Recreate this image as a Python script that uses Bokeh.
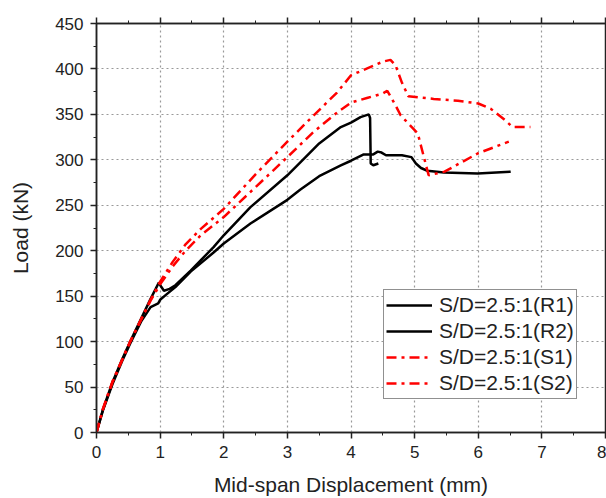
from bokeh.plotting import figure
from bokeh.models import LinearAxis, SingleIntervalTicker, Range1d, Legend, LegendItem
from bokeh.embed import file_html
from bokeh.resources import INLINE

# ---- data ----
r1_x = [0, 0.1, 0.25, 0.4, 0.53, 0.7, 0.85, 0.93, 0.98, 1.02, 1.06, 1.15, 1.24, 1.48, 1.84, 2.0, 2.42, 3.0, 3.2, 3.5, 3.84, 4.0, 4.15, 4.28, 4.30, 4.31, 4.35, 4.43]
r1_y = [0, 25, 55, 80, 100, 125, 147, 158, 165, 160, 156, 158, 162, 178, 204, 217, 248, 283, 297, 318, 336, 341, 347, 350, 346, 296, 294, 296]

r2_x = [0, 0.1, 0.25, 0.4, 0.53, 0.7, 0.85, 0.97, 1.0, 1.1, 1.24, 1.48, 1.84, 2.0, 2.42, 3.0, 3.2, 3.5, 3.84, 4.0, 4.2, 4.35, 4.42, 4.48, 4.55, 4.8, 4.95, 5.02, 5.1, 5.2, 5.46, 5.99, 6.51]
r2_y = [0, 24, 53, 78, 98, 122, 138, 142, 146, 152, 160, 177, 198, 208, 230, 256, 267, 282, 294, 299, 306, 306, 309, 308, 305, 305, 303, 296, 291, 288, 286, 285, 287]

s1_x = [0, 0.1, 0.25, 0.53, 0.85, 1.0, 1.2, 1.4, 1.64, 2.0, 2.5, 3.0, 3.4, 3.78, 4.0, 4.3, 4.5, 4.62, 4.7, 4.8, 4.9, 5.3, 5.68, 6.0, 6.2, 6.4, 6.54, 6.82]
s1_y = [0, 26, 56, 100, 146, 166, 188, 207, 224, 246, 284, 320, 348, 374, 393, 402, 408, 410, 404, 385, 370, 367, 365, 362, 356, 345, 336, 336]

s2_x = [0, 0.1, 0.25, 0.53, 0.85, 1.0, 1.2, 1.4, 1.64, 2.0, 2.5, 3.0, 3.4, 3.78, 4.0, 4.25, 4.5, 4.57, 4.7, 4.78, 5.05, 5.12, 5.22, 5.47, 5.99, 6.48]
s2_y = [0, 25, 55, 100, 145, 163, 183, 200, 217, 237, 270, 303, 330, 352, 363, 368, 373, 376, 360, 349, 329, 310, 283, 287, 307, 320]

labels = ["S/D=2.5:1(R1)", "S/D=2.5:1(R2)", "S/D=2.5:1(S1)", "S/D=2.5:1(S2)"]

FONT = "Liberation Sans"
INK = "#222222"

p = figure(width=606, height=498, output_backend="svg", toolbar_location=None,
           x_range=Range1d(0, 8), y_range=Range1d(0, 450),
           min_border_left=96, min_border_right=1, min_border_top=23, min_border_bottom=64)
p.outline_line_color = INK
p.outline_line_width = 1.5

p.xaxis.ticker = SingleIntervalTicker(interval=1, num_minor_ticks=2)
p.yaxis.ticker = SingleIntervalTicker(interval=50, num_minor_ticks=2)

for ax in (p.xaxis[0], p.yaxis[0]):
    ax.axis_line_width = 1.5
    ax.axis_line_color = INK
    ax.major_tick_line_color = INK
    ax.minor_tick_line_color = INK
    ax.major_tick_line_width = 1.5
    ax.major_tick_out = 6
    ax.major_tick_in = 0
    ax.minor_tick_out = 3
    ax.minor_tick_in = 0
    ax.major_label_text_font = FONT
    ax.major_label_text_font_size = "17px"
    ax.major_label_text_color = INK
    ax.axis_label_text_font = FONT
    ax.axis_label_text_font_size = "21px"
    ax.axis_label_text_font_style = "normal"
    ax.axis_label_text_color = INK

p.xaxis.axis_label = "Mid-span Displacement (mm)"
p.yaxis.axis_label = "Load (kN)"
p.xaxis.major_label_standoff = 7
p.yaxis.major_label_standoff = 7
p.xaxis.axis_label_standoff = 12
p.yaxis.axis_label_standoff = 20

top = LinearAxis(ticker=SingleIntervalTicker(interval=1, num_minor_ticks=2))
top.axis_line_width = 1.5
top.axis_line_color = INK
top.major_tick_line_color = INK
top.minor_tick_line_color = INK
top.major_tick_line_width = 1.5
top.major_tick_out = 6
top.major_tick_in = 0
top.minor_tick_out = 3
top.minor_tick_in = 0
top.major_label_text_color = None
top.major_label_standoff = 0
p.add_layout(top, "above")

p.xgrid.grid_line_color = "#999999"
p.ygrid.grid_line_color = "#999999"
p.xgrid.grid_line_dash = "2 3"
p.ygrid.grid_line_dash = "2 3"
p.xgrid.grid_line_width = 1.2
p.ygrid.grid_line_width = 1.2

dash = "10 5 3 5"
l1 = p.line(r1_x, r1_y, line_color="black", line_width=2.5)
l2 = p.line(r2_x, r2_y, line_color="black", line_width=2.5)
l3 = p.line(s1_x, s1_y, line_color="#ff0000", line_width=2.5, line_dash=dash)
l4 = p.line(s2_x, s2_y, line_color="#ff0000", line_width=2.5, line_dash=dash)

legend = Legend(items=[LegendItem(label=labels[0], renderers=[l1]),
                       LegendItem(label=labels[1], renderers=[l2]),
                       LegendItem(label=labels[2], renderers=[l3]),
                       LegendItem(label=labels[3], renderers=[l4])],
                location=(287, 33))
legend.label_text_font = FONT
legend.label_text_font_size = "21px"
legend.label_text_color = INK
legend.glyph_width = 46
legend.glyph_height = 26
legend.label_height = 26
legend.label_standoff = 7
legend.spacing = 0
legend.padding = 2
legend.margin = 0
legend.border_line_color = INK
legend.border_line_width = 1.5
legend.background_fill_alpha = 1
p.add_layout(legend, "center")

open("out.html", "w").write(file_html(p, INLINE))
